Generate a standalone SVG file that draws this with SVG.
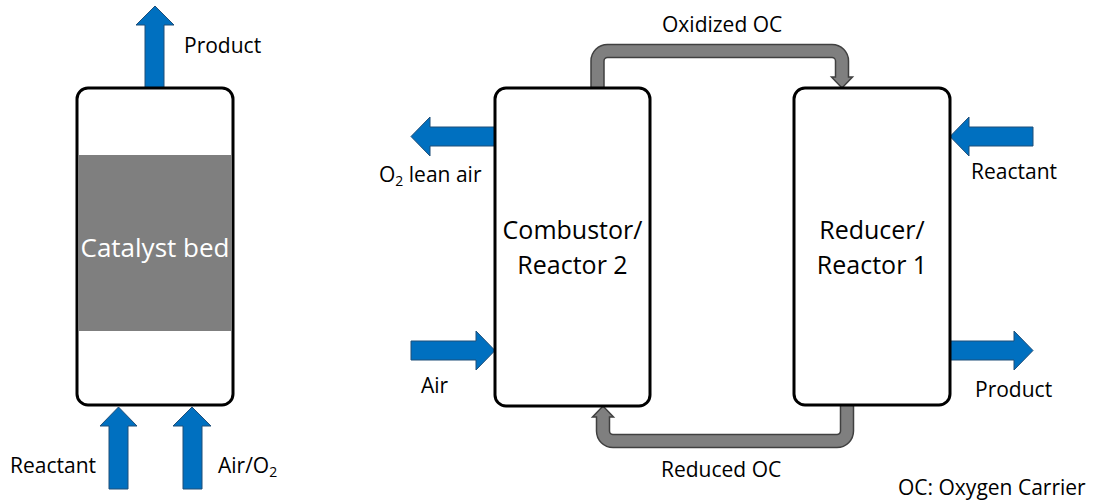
<svg xmlns="http://www.w3.org/2000/svg" width="1094" height="503" viewBox="0 0 1094 503">
<style>
.t{font-family:"Open Sans","Liberation Sans",sans-serif;font-size:21px;fill:#000}
.big{font-family:"Open Sans","Liberation Sans",sans-serif;font-size:25px;fill:#000;text-anchor:middle}
.blue{fill:#0070C0;stroke:#1f4e79;stroke-width:1}
.pipe{fill:#7f7f7f;stroke:#404040;stroke-width:1.5}
.box{fill:#fff;stroke:#000;stroke-width:3}
.sub{font-size:14px}
</style>
<rect width="1094" height="503" fill="#fff"/>
<g id="connectors">
<polygon class="blue" points="145,89 145,25 136,25 155,6 174,25 164,25 164,89"/>
<polygon class="blue" points="109,489 109,426 100,426 118.5,407 137,426 128,426 128,489"/>
<polygon class="blue" points="183,489 183,426 173,426 192,407 211,426 202,426 202,489"/>
<polygon class="blue" points="496,127 430,127 430,117 411,136.5 430,156 430,146 496,146"/>
<polygon class="blue" points="411,341 476,341 476,331 495,350.5 476,370 476,360 411,360"/>
<polygon class="blue" points="1033,127 969,127 969,117 950,136.5 969,156 969,146 1033,146"/>
<polygon class="blue" points="949,341 1014,341 1014,331 1033,350.5 1014,370 1014,360 949,360"/>
<path class="pipe" d="M591,89 V61 A16.5,16.5 0 0 1 607.5,44.5 H832 A16.5,16.5 0 0 1 848.5,61 V77 H852.5 L842,88 L831.5,77 H835.5 V61 A3.5,3.5 0 0 0 832,57.5 H607.5 A3.5,3.5 0 0 0 604,61 V89 Z"/>
<path class="pipe" d="M853.5,404 V431 A16.5,16.5 0 0 1 837,447.5 H613 A16.5,16.5 0 0 1 596.5,431 V417 H592.5 L603,406 L613.5,417 H609.5 V431 A3.5,3.5 0 0 0 613,434.5 H837 A3.5,3.5 0 0 0 840.5,431 V404 Z"/>
</g>
<g id="fixed-bed">
<rect class="box" x="77" y="88" width="156" height="317" rx="11"/>
<rect x="78.5" y="155" width="153" height="176" fill="#7f7f7f"/>
<text x="155" y="257" font-family="Open Sans, Liberation Sans, sans-serif" font-size="26" fill="#fff" text-anchor="middle">Catalyst bed</text>
</g>
<g id="combustor">
<rect class="box" x="495" y="88" width="155" height="318" rx="11"/>
<text class="big" x="572.5" y="239">Combustor/</text>
<text class="big" x="572.5" y="274">Reactor 2</text>
</g>
<g id="reducer">
<rect class="box" x="794" y="88" width="156" height="317" rx="11"/>
<text class="big" x="872" y="239">Reducer/</text>
<text class="big" x="872" y="274">Reactor 1</text>
</g>
<g id="labels">
<text class="t" x="184" y="53">Product</text>
<text class="t" x="10" y="473">Reactant</text>
<text class="t" x="218" y="473">Air/O<tspan class="sub" dy="4">2</tspan></text>
<text class="t" x="662" y="32">Oxidized OC</text>
<text class="t" x="661" y="477">Reduced OC</text>
<text class="t" x="379" y="182">O<tspan class="sub" dy="4">2</tspan><tspan dy="-4"> lean air</tspan></text>
<text class="t" x="421" y="393">Air</text>
<text class="t" x="971" y="179">Reactant</text>
<text class="t" x="975" y="397">Product</text>
<text class="t" x="898" y="495">OC: Oxygen Carrier</text>
</g>
</svg>
